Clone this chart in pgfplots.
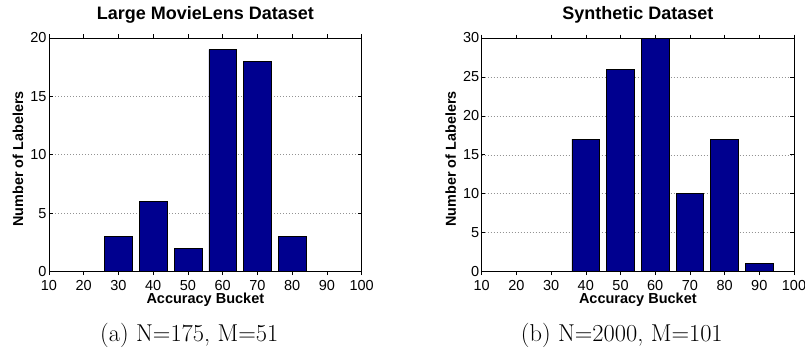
\documentclass[border=0pt]{standalone}
\usepackage{fontspec}
\usepackage{pgfplots}
\pgfplotsset{compat=1.18}
\newfontfamily\hv{Liberation Sans}
\definecolor{mbar}{RGB}{0,0,143}
\pgfplotsset{mystyle/.style={
  scale only axis, height=233.5pt,
  xmin=10, xmax=100, ymin=0,
  xtick={10,20,...,100},
  tick align=inside, tick pos=both, major tick length=3.5pt,
  ymajorgrids,
  grid style={gray!85, line width=0.5pt, dash pattern=on 0.8pt off 2.2pt},
  axis line style={line width=0.8pt},
  tick style={black, line width=0.6pt},
  ticklabel style={font=\hv\fontsize{14.5}{17}\selectfont},
  /pgf/number format/assume math mode=true,
  xticklabel style={anchor=base, yshift=-15.8pt, inner sep=0pt},
  yticklabel style={anchor=east, inner sep=0pt, xshift=-2.3pt},
  title style={font=\hv\bfseries\fontsize{18}{21}\selectfont, at={(0.5,1)}, anchor=base, yshift=12.3pt},
  xlabel style={font=\hv\bfseries\fontsize{14.5}{17}\selectfont, at={(axis description cs:0.5,0)}, anchor=base, yshift=-31.8pt},
  ylabel style={font=\hv\bfseries\fontsize{14.4}{17}\selectfont, at={(axis description cs:-0.083,0.482)}, anchor=base},
  xlabel={Accuracy Bucket},
  ylabel={Number of Labelers},
  ybar, bar width=8,
}}
\begin{document}
\begin{tikzpicture}[x=1pt,y=1pt]
\path[use as bounding box] (0,0) rectangle (805,348);
\begin{axis}[mystyle, at={(49pt,76.5pt)}, anchor=south west, width=312.7pt,
  ymax=20, ytick={0,5,10,15,20}, title={Large MovieLens Dataset}]
\addplot[fill=mbar, draw=black, line width=0.6pt] coordinates {(30,3) (40,6) (50,2) (60,19) (70,18) (80,3)};
\end{axis}
\begin{axis}[mystyle, at={(481.7pt,76.5pt)}, anchor=south west, width=312.3pt,
  ymax=30, ytick={0,5,10,15,20,25,30}, title={Synthetic Dataset}]
\addplot[fill=mbar, draw=black, line width=0.6pt] coordinates {(40,17) (50,26) (60,30) (70,10) (80,17) (90,1)};
\end{axis}
\node[anchor=base west, inner sep=0pt, font=\fontsize{24.4}{29}\selectfont] at (100,6.3) {(a) N=175, M=51};
\node[anchor=base west, inner sep=0pt, font=\fontsize{24.4}{29}\selectfont] at (520.7,6.3) {(b) N=2000, M=101};
\end{tikzpicture}
\end{document}
